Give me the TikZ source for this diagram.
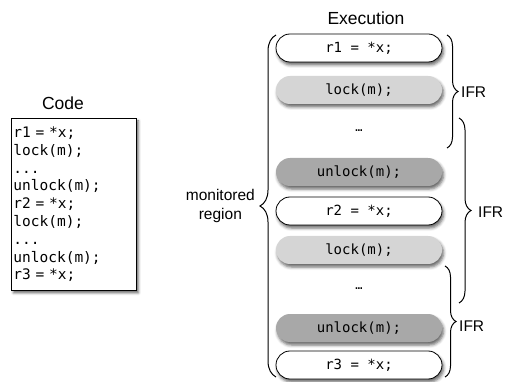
\documentclass[tikz,border=0pt]{standalone}
\usepackage{fontspec}
\setmainfont{Liberation Sans}
\newfontfamily\codefont{DejaVu Sans Mono}
\usetikzlibrary{shadows,shadows.blur,decorations.pathreplacing,calc}
\definecolor{pilllight}{HTML}{D5D5D5}
\definecolor{pilldark}{HTML}{A8A8A8}
\tikzset{
  pill/.style={rectangle, rounded corners=14pt, minimum width=166pt, minimum height=28pt,
    inner sep=0pt, font=\codefont\fontsize{14}{16}\selectfont,
    blur shadow={shadow xshift=1.5pt, shadow yshift=-3pt, shadow blur radius=3pt, shadow opacity=60}},
  pillwhite/.style={pill, draw=black, line width=0.8pt, fill=white},
  pilllt/.style={pill, fill=pilllight},
  pilldk/.style={pill, fill=pilldark},
  dotsnode/.style={font=\codefont\fontsize{12}{14}\selectfont, inner sep=0pt},
  bracedec/.style={decorate, decoration={brace, amplitude=#1}, line width=1pt},
  title/.style={font=\fontsize{17.5}{20}\selectfont, inner sep=0pt},
  label/.style={font=\fontsize{15.5}{19}\selectfont, inner sep=0pt},
}
\begin{document}
\begin{tikzpicture}[x=1pt,y=-1pt]
\useasboundingbox (0,0) rectangle (509,382);
% Code column
\node[title] (codetitle) at (63,103) {Code};
\node[draw=black, line width=0.8pt, fill=white, anchor=north west,
  minimum width=125pt, minimum height=172pt, text width=121pt, inner xsep=2pt, inner ysep=2pt,
  align=left, font=\codefont\fontsize{14.5}{17.8}\selectfont,
  blur shadow={shadow xshift=2pt, shadow yshift=-2.5pt, shadow blur radius=2.5pt, shadow opacity=60}]
  (code) at (11,118) {r1 = *x;\\lock(m);\\...\\unlock(m);\\r2 = *x;\\lock(m);\\...\\unlock(m);\\r3 = *x;};
% Execution column
\node[title] (exectitle) at (366,18) {Execution};
\node[pillwhite] (e1) at (359,48) {r1 = *x;};
\node[pilllt] (e2) at (359,90) {lock(m);};
\node[dotsnode] (e3) at (359,131) {…};
\node[pilldk] (e4) at (359,172) {unlock(m);};
\node[pillwhite] (e5) at (359,211) {r2 = *x;};
\node[pilllt] (e6) at (359,250) {lock(m);};
\node[dotsnode] (e7) at (359,289) {…};
\node[pilldk] (e8) at (359,328) {unlock(m);};
\node[pillwhite] (e9) at (359,365) {r3 = *x;};
% braces
\coordinate (lbB) at (276,377);
\coordinate (lbT) at (276,35);
\draw[bracedec=16pt] (lbB) -- (lbT);
\node[label, align=center, anchor=east] (mon) at (255,206) {monitored\\region};
\coordinate (b1T) at (447,35);
\coordinate (b1B) at (447,148);
\draw[bracedec=11pt] (b1T) -- (b1B);
\node[label, anchor=west] (ifr1) at (461,92) {IFR};
\coordinate (b2T) at (459,118);
\coordinate (b2B) at (459,303);
\draw[bracedec=12pt] (b2T) -- (b2B);
\node[label, anchor=west] (ifr2) at (478,212) {IFR};
\coordinate (b3T) at (445,266);
\coordinate (b3B) at (445,377);
\draw[bracedec=11pt] (b3T) -- (b3B);
\node[label, anchor=west] (ifr3) at (459,326) {IFR};
\end{tikzpicture}
\end{document}
